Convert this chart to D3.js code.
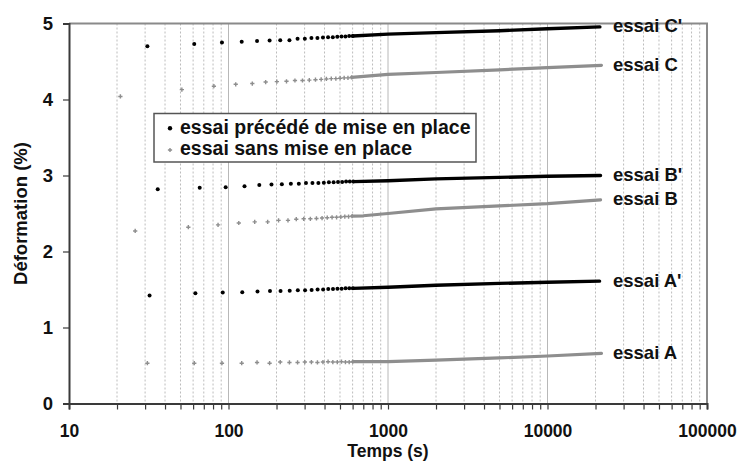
<!DOCTYPE html>
<html>
<head>
<meta charset="utf-8">
<script src="https://cdn.jsdelivr.net/npm/d3@7/dist/d3.min.js"></script>
<style>
  html, body { margin: 0; padding: 0; background: #fff; }
  svg { display: block; }
  text { font-family: "Liberation Sans", Arial, sans-serif; font-weight: bold; fill: #111; }
</style>
</head>
<body>
<svg id="chart" width="741" height="466"></svg>
<script>
// Creep tests: strain (%) versus elapsed time (s), log time axis.
// Early readings are drawn as individual markers, the dense later record as a band.

const xTicksMajor = [10, 100, 1000, 10000, 100000];
const yTicks = [0, 1, 2, 3, 4, 5];

// essai C' (with prior seating)
const tC1 = [31, 61, 91, 121, 151, 181, 211, 241, 271, 301, 331, 361, 391, 421, 451, 481, 511, 541, 571, 601];
const vC1 = [4.70, 4.73, 4.75, 4.76, 4.77, 4.775, 4.78, 4.78, 4.80, 4.80, 4.81, 4.81, 4.815, 4.82, 4.82, 4.825, 4.83, 4.83, 4.835, 4.835];
const tailTC1 = [601, 1000, 2000, 5000, 10000, 21300];
const tailVC1 = [4.835, 4.86, 4.88, 4.905, 4.93, 4.955];

// essai C (no seating)
const tC = [21, 51, 81, 111, 141, 171, 201, 231, 261, 291, 321, 351, 381, 411, 441, 471, 501, 531, 561, 591];
const vC = [4.04, 4.13, 4.175, 4.20, 4.21, 4.23, 4.235, 4.24, 4.25, 4.25, 4.255, 4.26, 4.265, 4.27, 4.275, 4.275, 4.28, 4.285, 4.285, 4.29];
const tailTC = [591, 1000, 2000, 5000, 10000, 21800];
const tailVC = [4.29, 4.33, 4.355, 4.39, 4.42, 4.45];

// essai B'
const tB1 = [36, 66, 96, 126, 156, 186, 216, 246, 276, 306, 336, 366, 396, 426, 456, 486, 516, 546, 576, 606];
const vB1 = [2.82, 2.84, 2.845, 2.86, 2.875, 2.88, 2.885, 2.89, 2.89, 2.90, 2.90, 2.90, 2.905, 2.91, 2.91, 2.915, 2.915, 2.92, 2.92, 2.92];
const tailTB1 = [606, 1000, 2000, 5000, 10000, 21500];
const tailVB1 = [2.92, 2.93, 2.955, 2.975, 2.99, 3.00];

// essai B
const tB = [26, 56, 86, 116, 146, 176, 206, 236, 266, 296, 326, 356, 386, 416, 446, 476, 506, 536, 566, 596];
const vB = [2.27, 2.32, 2.35, 2.375, 2.39, 2.39, 2.41, 2.41, 2.425, 2.43, 2.43, 2.435, 2.44, 2.445, 2.45, 2.45, 2.455, 2.46, 2.46, 2.465];
const tailTB = [596, 700, 1000, 2000, 5000, 10000, 21500];
const tailVB = [2.465, 2.47, 2.50, 2.56, 2.60, 2.63, 2.68];

// essai A'
const tA1 = [32, 62, 92, 122, 152, 182, 212, 242, 272, 302, 332, 362, 392, 422, 452, 482, 512, 542, 572, 602];
const vA1 = [1.42, 1.45, 1.46, 1.465, 1.475, 1.48, 1.48, 1.485, 1.49, 1.49, 1.495, 1.50, 1.50, 1.505, 1.505, 1.51, 1.51, 1.515, 1.515, 1.515];
const tailTA1 = [602, 1000, 2000, 5000, 10000, 21200];
const tailVA1 = [1.515, 1.53, 1.555, 1.58, 1.595, 1.61];

// essai A
const tA = [31, 61, 91, 121, 151, 181, 211, 241, 271, 301, 331, 361, 391, 421, 451, 481, 511, 541, 571, 601];
const vA = [0.53, 0.53, 0.53, 0.53, 0.54, 0.53, 0.545, 0.54, 0.54, 0.545, 0.545, 0.54, 0.545, 0.55, 0.545, 0.545, 0.55, 0.545, 0.545, 0.55];
const tailTA = [601, 1000, 2000, 5000, 10000, 21800];
const tailVA = [0.55, 0.55, 0.57, 0.60, 0.625, 0.66];

const seriesNames = ["essai C'", "essai C", "essai B'", "essai B", "essai A'", "essai A"];
const legendLabels = ["essai précédé de mise en place", "essai sans mise en place"];

const BLACK = "#000";
const GREY = "#8e8e8e";

const series = [
  { name: seriesNames[0], t: tC1, v: vC1, tt: tailTC1, tv: tailVC1, seated: true },
  { name: seriesNames[1], t: tC,  v: vC,  tt: tailTC,  tv: tailVC,  seated: false },
  { name: seriesNames[2], t: tB1, v: vB1, tt: tailTB1, tv: tailVB1, seated: true },
  { name: seriesNames[3], t: tB,  v: vB,  tt: tailTB,  tv: tailVB,  seated: false },
  { name: seriesNames[4], t: tA1, v: vA1, tt: tailTA1, tv: tailVA1, seated: true },
  { name: seriesNames[5], t: tA,  v: vA,  tt: tailTA,  tv: tailVA,  seated: false }
];

const svg = d3.select("#chart");
const plotL = 69, plotR = 707, plotT = 23.5, plotB = 403.5;

const x = d3.scaleLog().domain([10, 100000]).range([plotL, plotR]);
const y = d3.scaleLinear().domain([0, 5]).range([plotB, plotT]);

// every 1..9 x decade position for grid and ticks
const allXTicks = [];
xTicksMajor.slice(0, -1).forEach(d => { for (let k = 1; k <= 9; k++) allXTicks.push(d * k); });
allXTicks.push(100000);

const grid = svg.append("g");
allXTicks.filter(v => v > 10 && v < 100000).forEach(v => {
  const major = xTicksMajor.includes(v);
  grid.append("line")
    .attr("x1", x(v)).attr("x2", x(v))
    .attr("y1", plotT).attr("y2", plotB)
    .attr("stroke", major ? "#b8b8b8" : "#bcbcbc")
    .attr("stroke-width", 1)
    .attr("stroke-dasharray", major ? null : "2,2");
});

// plot frame (top and right)
svg.append("path")
  .attr("d", `M${plotL},${plotT}H${plotR}V${plotB}`)
  .attr("fill", "none").attr("stroke", "#8a8a8a").attr("stroke-width", 2);

// x axis
const xAxis = d3.axisBottom(x)
  .tickValues(allXTicks)
  .tickSize(6)
  .tickPadding(18)
  .tickFormat(d => xTicksMajor.includes(d) ? String(d) : "");
const gx = svg.append("g").attr("transform", `translate(0,${plotB})`).call(xAxis);
gx.select(".domain").attr("stroke", "#3a3a3a").attr("stroke-width", 2);
gx.selectAll(".tick line").attr("stroke", "#3a3a3a").attr("stroke-width", 1.2);
gx.selectAll(".tick text").attr("font-size", 17.5).attr("fill", "#111").attr("dy", null)
  .attr("y", 33.5)
  .attr("font-family", "Liberation Sans, Arial, sans-serif").attr("font-weight", "bold");

// y axis
const yAxis = d3.axisLeft(y).tickValues(yTicks).tickSize(6).tickPadding(10).tickFormat(d3.format("d"));
const gy = svg.append("g").attr("transform", `translate(${plotL},0)`).call(yAxis);
gy.select(".domain").attr("stroke", "#3a3a3a").attr("stroke-width", 2);
gy.selectAll(".tick line").attr("stroke", "#3a3a3a").attr("stroke-width", 1.2);
gy.selectAll(".tick text").attr("font-size", 18.5).attr("fill", "#111")
  .attr("font-family", "Liberation Sans, Arial, sans-serif").attr("font-weight", "bold");

// axis titles
svg.append("text").attr("x", 388).attr("y", 456.5)
  .attr("text-anchor", "middle").attr("font-size", 17.5).text("Temps (s)");
svg.append("text")
  .attr("transform", `translate(26.5,${(plotT + plotB) / 2}) rotate(-90)`)
  .attr("text-anchor", "middle").attr("font-size", 18.5).text("Déformation (%)");

// series
const line = d3.line().x(d => x(d[0])).y(d => y(d[1]));
const crossSym = d3.symbol().type(d3.symbolCross).size(10);

series.forEach(s => {
  const col = s.seated ? BLACK : GREY;
  const g = svg.append("g");
  g.append("path")
    .datum(s.tt.map((t, i) => [t, s.tv[i]]))
    .attr("d", line)
    .attr("fill", "none")
    .attr("stroke", col)
    .attr("stroke-width", s.seated ? 3.4 : 3.2)
    .attr("stroke-linecap", "round")
    .attr("stroke-linejoin", "round");
  const pts = s.t.map((t, i) => [t, s.v[i]]);
  if (s.seated) {
    g.selectAll("circle").data(pts).join("circle")
      .attr("cx", d => x(d[0])).attr("cy", d => y(d[1]))
      .attr("r", 2).attr("fill", col);
  } else {
    g.selectAll("path.m").data(pts).join("path").attr("class", "m")
      .attr("d", crossSym)
      .attr("transform", d => `translate(${x(d[0])},${y(d[1])})`)
      .attr("fill", col);
  }
  // end label
  svg.append("text")
    .attr("x", 613)
    .attr("y", y(s.tv[s.tv.length - 1]))
    .attr("dy", "0.3em")
    .attr("font-size", 18.5)
    .text(s.name);
});

// legend
const lg = svg.append("g");
lg.append("rect").attr("x", 154).attr("y", 113.5).attr("width", 322).attr("height", 48.5)
  .attr("fill", "#fff").attr("stroke", "#555").attr("stroke-width", 1.5);
lg.append("circle").attr("cx", 170).attr("cy", 128.3).attr("r", 2.2).attr("fill", BLACK);
lg.append("path").attr("d", crossSym).attr("transform", "translate(170,150)").attr("fill", GREY);
lg.append("text").attr("x", 180).attr("y", 133.5).attr("font-size", 19.5).text(legendLabels[0]);
lg.append("text").attr("x", 180).attr("y", 155).attr("font-size", 19.5).text(legendLabels[1]);
</script>
</body>
</html>
